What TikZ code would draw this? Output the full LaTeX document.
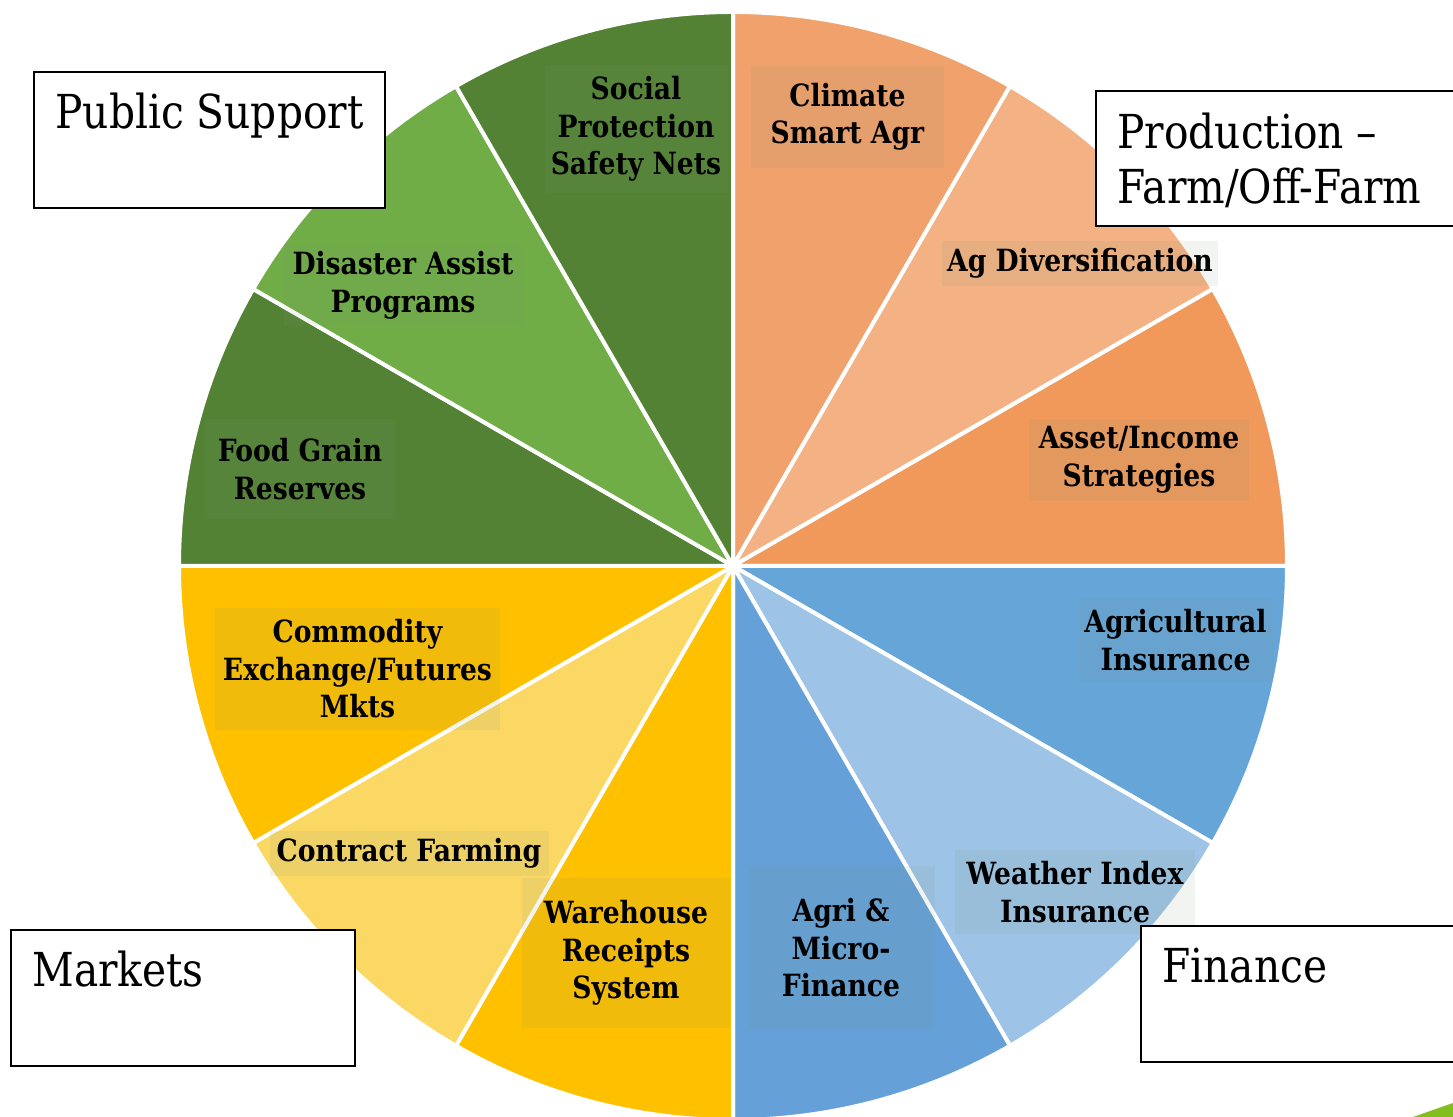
\documentclass[tikz,border=0pt]{standalone}
\usepackage{fontspec}
\setmainfont{DejaVu Serif}[FakeStretch=0.87]
\definecolor{orA}{RGB}{241,161,107}
\definecolor{orB}{RGB}{244,177,131}
\definecolor{orC}{RGB}{240,153,91}
\definecolor{blA}{RGB}{102,165,216}
\definecolor{blB}{RGB}{157,195,230}
\definecolor{blC}{RGB}{101,160,216}
\definecolor{yeA}{RGB}{255,192,0}
\definecolor{yeB}{RGB}{251,215,100}
\definecolor{grA}{RGB}{84,130,53}
\definecolor{grB}{RGB}{112,173,71}
\definecolor{lime}{RGB}{130,190,30}
\definecolor{boxtint}{RGB}{120,150,120}
\tikzset{
  slice/.style={draw=white, line width=2pt},
  lbl/.style={fill=boxtint, fill opacity=0.1, text opacity=1, inner sep=0pt,
    align=center, font=\bfseries\fontsize{15.3}{18.75}\selectfont},
  sz/.style 2 args={minimum width=#1*0.5pt, minimum height=#2*0.5pt},
  bigbox/.style={draw=black, line width=1pt, fill=white},
  bigtxt/.style={inner sep=0pt, align=left, anchor=base west,
    font=\fontsize{23.4}{27.5}\selectfont}
}
\begin{document}
\begin{tikzpicture}[x=0.5pt,y=0.5pt]
\useasboundingbox (0,0) rectangle (1453,1117);
\clip (0,0) rectangle (1453,1117);
\coordinate (c) at (733,551);
\foreach \a/\b/\col in {60/90/orA, 30/60/orB, 0/30/orC,
    -30/0/blA, -60/-30/blB, -90/-60/blC,
    -120/-90/yeA, -150/-120/yeB, -180/-150/yeA,
    150/180/grA, 120/150/grB, 90/120/grA}
  \filldraw[slice, fill=\col] (c) -- ++(\a:554) arc[start angle=\a, end angle=\b, radius=554] -- cycle;
% labels
\node[lbl, sz={193}{102}] (climate) at (847.5,1000) {Climate\\Smart Agr};
\node[lbl, sz={276}{45}] (agdiv) at (1080,853.5) {Ag Diversification};
\node[lbl, sz={220}{82}] (asset) at (1139,657) {Asset/Income\\Strategies};
\node[lbl, sz={195}{82}] (agins) at (1175.5,477) {Agricultural\\Insurance};
\node[lbl, sz={240}{84}] (weather) at (1075,225) {Weather Index\\Insurance};
\node[lbl, sz={188}{164}] (micro) at (841,169) {Agri \&\\Micro-\\Finance};
\node[lbl, sz={208}{150}] (warehouse) at (626,164) {Warehouse\\Receipts\\System};
\node[lbl, sz={279}{45}] (contract) at (409,263.5) {Contract Farming};
\node[lbl, sz={285}{122}] (commodity) at (357.5,448) {Commodity\\Exchange/Futures\\Mkts};
\node[lbl, sz={190}{100}] (food) at (300,648) {Food Grain\\Reserves};
\node[lbl, sz={239}{81}] (disaster) at (403,831.5) {Disaster Assist\\Programs};
\node[lbl, sz={183}{128}] (social) at (636,988) {Social\\Protection\\Safety Nets};
% category boxes
\draw[bigbox] (34,1045) rectangle (385,909);
\node[bigtxt] (public) at (55,988) {Public Support};
\draw[bigbox] (1096,1026) rectangle (1470,891);
\node[bigtxt] (production) at (1117,913) {Production –\\Farm/Off-Farm};
\draw[bigbox] (11,187) rectangle (355,51);
\node[bigtxt] (markets) at (32,130) {Markets};
\draw[bigbox] (1141,191) rectangle (1470,55);
\node[bigtxt] (finance) at (1162,134) {Finance};
% corner decoration
\fill[lime] (1413,0) -- (1453,14) -- (1453,0) -- cycle;
\end{tikzpicture}
\end{document}
